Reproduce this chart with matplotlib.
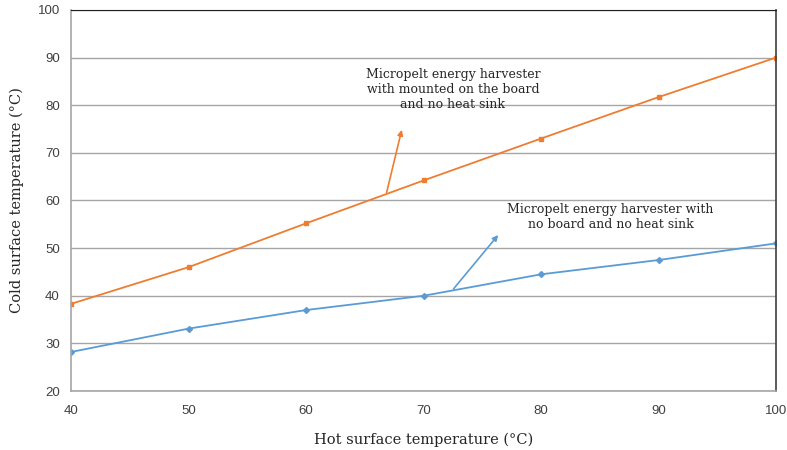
import matplotlib.pyplot as plt

# Data
hot_temp = [40, 50, 60, 70, 80, 90, 100]
cold_board = [38.3, 46.0, 55.2, 64.2, 73.0, 81.7, 90.0]
cold_no_board = [28.2, 33.1, 37.0, 40.0, 44.5, 47.5, 51.0]

orange = '#ED7D31'
blue = '#5B9BD5'
serif = 'DejaVu Serif'

fig = plt.figure(figsize=(7.87, 4.5), dpi=100)
ax = fig.add_axes([0.0902, 0.131, 0.896, 0.847])

ax.plot(hot_temp, cold_board, color=orange, lw=1.3, marker='s', ms=3.5)
ax.plot(hot_temp, cold_no_board, color=blue, lw=1.3, marker='D', ms=3)

ax.set_xlim(40, 100)
ax.set_ylim(20, 100)
ax.set_xticks(range(40, 101, 10))
ax.set_yticks(range(20, 101, 10))
ax.yaxis.grid(True, color='#A6A6A6', lw=1)
ax.set_axisbelow(True)
ax.tick_params(length=0, labelsize=9.5, colors='#404040')
ax.tick_params(axis='x', pad=10)
ax.tick_params(axis='y', pad=8)
for lab in ax.get_xticklabels() + ax.get_yticklabels():
    lab.set_family('Liberation Sans')

for side in ['left', 'bottom']:
    ax.spines[side].set_color('#A6A6A6')
    ax.spines[side].set_linewidth(1.2)
ax.spines['top'].set_color('#202020')
ax.spines['right'].set_color('#404040')
ax.spines['right'].set_linewidth(1.2)

ax.set_xlabel('Hot surface temperature (°C)', family=serif, fontsize=10.5,
              color='#262626', labelpad=11)
ax.set_ylabel('Cold surface temperature (°C)', family=serif, fontsize=10.5,
              color='#262626', labelpad=10)

ax.annotate('', xy=(68.2, 75.4), xytext=(66.8, 61.1),
            arrowprops=dict(arrowstyle='-|>', color=orange, lw=1.2, mutation_scale=8))
ax.text(72.5, 83.2, 'Micropelt energy harvester\nwith mounted on the board\nand no heat sink',
        ha='center', va='center', family=serif, fontsize=9, color='#262626',
        linespacing=1.2)

ax.annotate('', xy=(76.5, 53.2), xytext=(72.4, 41.0),
            arrowprops=dict(arrowstyle='-|>', color=blue, lw=1.2, mutation_scale=8))
ax.text(85.9, 56.5, 'Micropelt energy harvester with\nno board and no heat sink',
        ha='center', va='center', family=serif, fontsize=9, color='#262626',
        linespacing=1.2)

fig.savefig('out.png', dpi=100)
